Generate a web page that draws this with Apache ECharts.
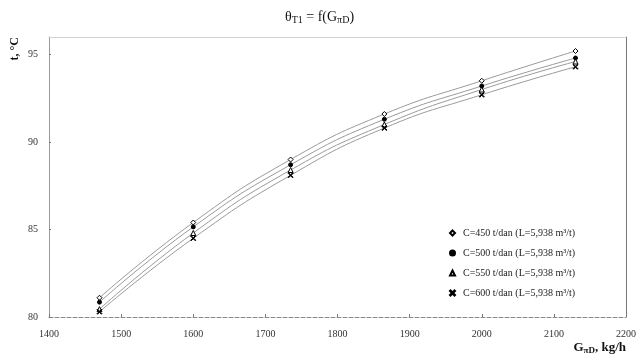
<!DOCTYPE html>
<html>
<head>
<meta charset="UTF-8">
<title>θT1 = f(GπD)</title>
<script src="https://cdn.jsdelivr.net/npm/echarts@6/dist/echarts.min.js"></script>
<style>
    html, body { margin: 0; padding: 0; background: #fff; }
    #chart { width: 639px; height: 355px; }
</style>
</head>
<body>
<div id="chart"></div>
<script type="text/javascript">
    // расход G, kg/h
    var flow = [1470, 1600, 1735, 1865, 2000, 2130];
    // температура t, °C для разных C
    var t450 = [81.1, 85.4, 89.0, 91.6, 93.5, 95.2];
    var t500 = [80.85, 85.15, 88.7, 91.3, 93.2, 94.8];
    var t550 = [80.45, 84.8, 88.4, 91.0, 93.0, 94.6];
    var t600 = [80.3, 84.5, 88.1, 90.8, 92.7, 94.3];
    var names = [
        'C=450 t/dan (L=5,938 m³/t)',
        'C=500 t/dan (L=5,938 m³/t)',
        'C=550 t/dan (L=5,938 m³/t)',
        'C=600 t/dan (L=5,938 m³/t)'
    ];

    var serif = 'Liberation Serif';
    var crossPath = 'path://M0,1L1,0L5,4L9,0L10,1L6,5L10,9L9,10L5,6L1,10L0,9L4,5Z';

    function pairs(ys) {
        var out = [];
        for (var i = 0; i < flow.length; i++) {
            out.push([flow[i], ys[i]]);
        }
        return out;
    }

    function makeSeries(name, ys, symbol, size, fill) {
        return {
            name: name,
            type: 'line',
            smooth: true,
            data: pairs(ys),
            symbol: symbol,
            symbolSize: size,
            itemStyle: { color: fill, borderColor: '#000', borderWidth: 1 },
            lineStyle: { color: '#9a9a9a', width: 1 },
            z: 3
        };
    }

    var myChart = echarts.init(document.getElementById('chart'));
    var option = {
        animation: false,
        title: {
            text: 'θ{s|T1} = f(G{s|πD})',
            left: 'center',
            top: 4,
            textStyle: {
                fontFamily: serif, fontSize: 14, fontWeight: 'normal', color: '#111',
                rich: { s: { fontFamily: serif, fontSize: 10, verticalAlign: 'bottom', padding: [6, 0, 0, 0] } }
            }
        },
        grid: { left: 49, right: 10, top: 37, bottom: 36 },
        legend: {
            orient: 'vertical',
            left: 444,
            top: 223,
            itemWidth: 5,
            itemHeight: 5,
            itemGap: 10,
            textStyle: { fontFamily: serif, fontSize: 10, color: '#222', padding: [0, 0, 0, 3] },
            data: [
                { name: names[0], icon: 'diamond' },
                { name: names[1], icon: 'circle' },
                { name: names[2], icon: 'triangle' },
                { name: names[3], icon: crossPath }
            ]
        },
        xAxis: [
            {
                type: 'value',
                min: 1400, max: 2200, interval: 100,
                name: 'G{s|πD}, kg/h',
                nameLocation: 'end',
                nameGap: 0,
                nameTextStyle: {
                    fontFamily: serif, fontSize: 13, fontWeight: 'bold', color: '#111',
                    align: 'right', verticalAlign: 'top', padding: [24, 0, 0, 0],
                    rich: { s: { fontFamily: serif, fontSize: 9, fontWeight: 'bold', padding: [5, 0, 0, 0] } }
                },
                axisLine: { lineStyle: { color: '#888', type: 'dashed', width: 1 } },
                axisTick: { show: true, inside: true, length: 3, lineStyle: { color: '#777' } },
                axisLabel: {
                    fontFamily: serif, fontSize: 10, color: '#333', margin: 12,
                    formatter: function (v) { return String(v); }
                },
                splitLine: { show: false }
            },
            {
                type: 'value',
                position: 'top',
                min: 1400, max: 2200,
                axisLine: { show: true, lineStyle: { color: '#c8c8c8', type: 'dotted', width: 1 } },
                axisTick: { show: false },
                axisLabel: { show: false },
                splitLine: { show: false }
            }
        ],
        yAxis: [
            {
                type: 'value',
                min: 80, max: 96, interval: 5,
                name: 't, °C',
                nameLocation: 'end',
                nameRotate: 90,
                nameGap: 0,
                nameTextStyle: {
                    fontFamily: serif, fontSize: 12, fontWeight: 'bold', color: '#111',
                    align: 'right', verticalAlign: 'bottom', padding: [0, 0, 28, 0]
                },
                axisLine: { show: true, lineStyle: { color: '#999', width: 1 } },
                axisTick: { show: true, inside: true, length: 2, lineStyle: { color: '#777' } },
                axisLabel: { fontFamily: serif, fontSize: 10, color: '#333', margin: 11, showMaxLabel: false },
                splitLine: { show: false }
            },
            {
                type: 'value',
                position: 'right',
                min: 80, max: 96,
                axisLine: { show: true, lineStyle: { color: '#777', width: 1 } },
                axisTick: { show: false },
                axisLabel: { show: false },
                splitLine: { show: false }
            }
        ],
        series: [
            makeSeries(names[0], t450, 'diamond', 5, '#fff'),
            makeSeries(names[1], t500, 'circle', 4, '#000'),
            makeSeries(names[2], t550, 'triangle', 5, '#fff'),
            makeSeries(names[3], t600, crossPath, 5, '#000')
        ]
    };
    myChart.setOption(option);
</script>
</body>
</html>
